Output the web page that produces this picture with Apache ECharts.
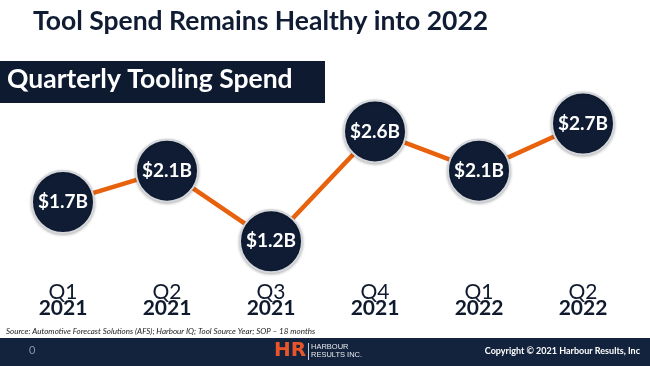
<!DOCTYPE html>
<html>
<head>
<meta charset="utf-8">
<script src="https://cdn.jsdelivr.net/npm/echarts@6/dist/echarts.min.js"></script>
<style>
html,body{margin:0;padding:0;background:#fff;}
#c{width:650px;height:366px;}
</style>
</head>
<body>
<div id="c"></div>
<script>
// ---- data ----
var quarters = ['Q1', 'Q2', 'Q3', 'Q4', 'Q1', 'Q2'];
var years = ['2021', '2021', '2021', '2021', '2022', '2022'];
var spendBillions = [1.7, 2.1, 1.2, 2.6, 2.1, 2.7];
var titleText = 'Tool Spend Remains Healthy into 2022';
var subtitleText = 'Quarterly Tooling Spend';
var sourceText = 'Source: Automotive Forecast Solutions (AFS); Harbour IQ; Tool Source Year; SOP \u2013 18 months';
var copyrightText = 'Copyright \u00a9 2021 Harbour Results, Inc';

var categories = quarters.map(function (q, i) { return q + '\n' + years[i]; });
var FONT = 'Lato, "Open Sans", sans-serif';
var NAVY = '#0f1c33';

var chart = echarts.init(document.getElementById('c'), null, {renderer: 'canvas'});
chart.setOption({
  backgroundColor: '#ffffff',
  animation: false,
  grid: {left: 11, right: 15, top: 100, bottom: 109},
  xAxis: {
    type: 'category',
    data: categories,
    boundaryGap: true,
    axisLine: {show: false},
    axisTick: {show: false},
    splitLine: {show: false},
    axisLabel: {
      margin: 27,
      interval: 0,
      formatter: function (v) {
        var p = v.split('\n');
        return '{q|' + p[0] + '}\n{y|' + p[1] + '}';
      },
      rich: {
        q: {fontFamily: FONT, fontSize: 21, fontWeight: 'normal', color: '#101a2e', lineHeight: 16, align: 'center'},
        y: {fontFamily: FONT, fontSize: 21, fontWeight: 'bold', color: '#101a2e', lineHeight: 16, align: 'center'}
      }
    }
  },
  yAxis: {
    type: 'value',
    min: 1,
    max: 3,
    show: false,
    splitLine: {show: false}
  },
  series: [{
    type: 'line',
    data: spendBillions,
    lineStyle: {color: '#e8620e', width: 4.5},
    symbol: 'circle',
    symbolSize: 62,
    itemStyle: {
      color: NAVY,
      borderColor: '#d3d6db',
      borderWidth: 2,
      shadowColor: 'rgba(0,0,0,0.25)',
      shadowBlur: 3,
      shadowOffsetY: 1
    },
    label: {
      show: true,
      position: 'inside',
      formatter: function (p) { return '$' + p.value.toFixed(1) + 'B'; },
      fontFamily: FONT,
      fontSize: 19,
      fontWeight: 'bold',
      color: '#ffffff'
    },
    z: 3
  }],
  graphic: [
    {type: 'text', left: 33, top: 8, style: {text: titleText, font: 'bold 26.5px ' + FONT, fill: NAVY}},
    {type: 'rect', shape: {x: 0, y: 61, width: 325, height: 42}, style: {fill: '#0e1a30'}},
    {type: 'text', left: 7, top: 66, style: {text: subtitleText, font: 'bold 26.5px ' + FONT, fill: '#ffffff'}},
    {type: 'text', left: 6, top: 327, style: {text: sourceText, font: 'italic 8px ' + FONT, fill: '#222222'}},
    {type: 'rect', shape: {x: 0, y: 338, width: 650, height: 28}, style: {fill: '#13233d'}},
    {type: 'text', left: 29, top: 345, style: {text: '0', font: '11px ' + FONT, fill: '#8a95a6'}},
    {type: 'text', left: 274, top: 341, style: {text: 'HR', font: 'bold 20px "DejaVu Sans", sans-serif', fill: '#e8552a'}},
    {type: 'rect', shape: {x: 308, y: 343, width: 1, height: 17}, style: {fill: '#c9ced6'}},
    {type: 'text', left: 311, top: 343, style: {text: 'HARBOUR\nRESULTS INC.', font: '7.5px "Liberation Sans", sans-serif', fill: '#e6e9ee', lineHeight: 8}},
    {type: 'text', right: 10, top: 347, style: {text: copyrightText, font: 'bold 9px ' + FONT, fill: '#ffffff'}}
  ]
});
</script>
</body>
</html>
